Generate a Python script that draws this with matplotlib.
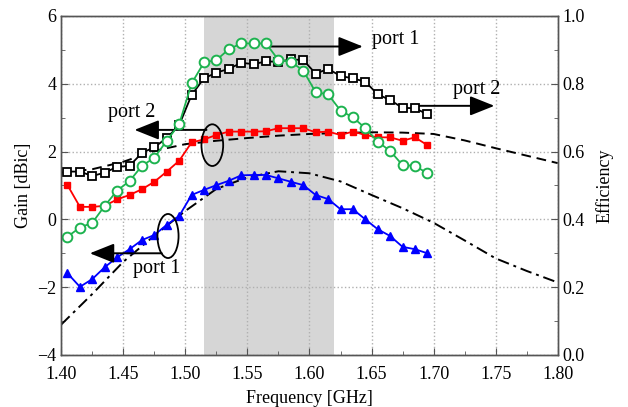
import matplotlib
matplotlib.use('Agg')
import matplotlib.pyplot as plt
from matplotlib.patches import Ellipse
import numpy as np

plt.rcParams['font.family'] = ['Liberation Serif', 'DejaVu Serif']

# measured frequencies [GHz]
freq = [1.405, 1.415, 1.425, 1.435, 1.445, 1.455, 1.465, 1.475, 1.485, 1.495,
        1.505, 1.515, 1.525, 1.535, 1.545, 1.555, 1.565, 1.575, 1.585, 1.595,
        1.605, 1.615, 1.625, 1.635, 1.645, 1.655, 1.665, 1.675, 1.685, 1.695]

# measured gain [dBic]
gain_p1 = [-1.59, -1.99, -1.76, -1.41, -1.12, -0.88, -0.61, -0.46, -0.16, 0.10,
           0.72, 0.87, 1.01, 1.14, 1.30, 1.31, 1.31, 1.21, 1.11, 1.01,
           0.72, 0.60, 0.30, 0.30, 0.00, -0.29, -0.49, -0.81, -0.88, -1.00]
gain_p2 = [1.01, 0.37, 0.37, 0.40, 0.59, 0.72, 0.89, 1.11, 1.41, 1.73,
           2.27, 2.36, 2.49, 2.59, 2.59, 2.59, 2.60, 2.69, 2.69, 2.69,
           2.57, 2.59, 2.49, 2.59, 2.49, 2.42, 2.42, 2.32, 2.42, 2.19]

# measured efficiency
eff_p1 = [0.349, 0.376, 0.390, 0.440, 0.485, 0.513, 0.558, 0.582, 0.632, 0.681,
          0.801, 0.863, 0.870, 0.902, 0.919, 0.919, 0.919, 0.870, 0.865, 0.839,
          0.775, 0.769, 0.721, 0.701, 0.669, 0.629, 0.602, 0.560, 0.558, 0.536]
eff_p2 = [0.541, 0.541, 0.528, 0.538, 0.555, 0.558, 0.596, 0.613, 0.640, 0.678,
          0.767, 0.816, 0.833, 0.844, 0.862, 0.858, 0.866, 0.865, 0.872, 0.870,
          0.830, 0.844, 0.823, 0.816, 0.806, 0.769, 0.752, 0.729, 0.728, 0.710]

# simulated gain [dBic]
freq_sim = [1.400, 1.425, 1.450, 1.475, 1.500, 1.525, 1.550, 1.575, 1.600,
            1.625, 1.650, 1.675, 1.700, 1.725, 1.750, 1.775, 1.800]
sim_p1 = [-3.10, -2.20, -1.25, -0.48, 0.25, 0.90, 1.24, 1.42, 1.36,
          1.12, 0.72, 0.33, -0.10, -0.62, -1.15, -1.52, -1.86]
sim_p2 = [1.38, 1.48, 1.70, 2.02, 2.22, 2.32, 2.40, 2.47, 2.52,
          2.55, 2.57, 2.56, 2.52, 2.33, 2.10, 1.88, 1.66]

fig = plt.figure(figsize=(6.28, 4.07), dpi=100)
ax1 = fig.add_axes([0.0976, 0.1278, 0.7904, 0.8329])
ax2 = ax1.twinx()

ax1.axvspan(1.515, 1.62, color='#d6d6d6', lw=0, zorder=0)
ax1.grid(True, linestyle=':', color='#b0b0b0', linewidth=1.0)

ax1.plot(freq_sim, sim_p2, '--', color='k', lw=1.4, dashes=(5, 3))
ax1.plot(freq_sim, sim_p1, '-.', color='k', lw=1.4, dashes=(6, 2.5, 1.5, 2.5))
ax1.plot(freq, gain_p2, '-s', color='#ff0000', lw=1.3, ms=4.5)
ax1.plot(freq, gain_p1, '-^', color='#0000ff', lw=1.3, ms=6)

ax2.plot(freq, eff_p2, '-s', color='k', lw=1.3, ms=6, mfc='white', mew=1.3)
ax2.plot(freq, eff_p1, '-o', color='#1db34f', lw=1.3, ms=7, mfc='white', mew=1.4)

ax1.set_xlim(1.40, 1.80)
ax1.set_ylim(-4, 6)
ax2.set_ylim(0.0, 1.0)
ax1.set_xticks(np.arange(1.40, 1.801, 0.05))
ax1.set_xticks(np.arange(1.40, 1.801, 0.025), minor=True)
ax1.set_yticks(np.arange(-4, 6.1, 2))
ax1.set_yticks(np.arange(-4, 6.1, 1), minor=True)
ax2.set_yticks(np.arange(0, 1.01, 0.2))
ax2.set_yticks(np.arange(0, 1.01, 0.1), minor=True)
ax1.xaxis.set_major_formatter(matplotlib.ticker.FormatStrFormatter('%.2f'))
ax2.yaxis.set_major_formatter(matplotlib.ticker.FormatStrFormatter('%.1f'))

for ax in (ax1, ax2):
    ax.tick_params(which='both', direction='in', labelsize=13, color='#555555')
    ax.tick_params(which='major', length=5)
    ax.tick_params(which='minor', length=3)
    for s in ax.spines.values():
        s.set_color('#555555')
        s.set_linewidth(1.0)
ax1.tick_params(axis='y', which='both', right=False)
ax1.tick_params(axis='x', which='both', top=False, pad=8)

ax1.set_xlabel('Frequency [GHz]', fontsize=13, labelpad=5)
ax1.set_ylabel('Gain [dBic]', fontsize=13, labelpad=4)
ax2.set_ylabel('Efficiency', fontsize=13, labelpad=8)

# annotations
arw = dict(arrowstyle='-|>,head_length=0.75,head_width=0.3', color='k',
           lw=1.4, mutation_scale=20, shrinkA=0, shrinkB=0)
ax1.annotate('', xy=(1.643, 5.10), xytext=(1.568, 5.10), arrowprops=arw)
ax1.text(1.650, 5.30, 'port 1', fontsize=14.5, va='center', ha='left')
ax1.annotate('', xy=(1.749, 3.35), xytext=(1.684, 3.35), arrowprops=arw)
ax1.text(1.716, 3.83, 'port 2', fontsize=14.5, va='center', ha='left')
ax1.annotate('', xy=(1.459, 2.64), xytext=(1.517, 2.64), arrowprops=arw)
ax1.text(1.438, 3.14, 'port 2', fontsize=14.5, va='center', ha='left')
ax1.annotate('', xy=(1.423, -1.0), xytext=(1.481, -1.0), arrowprops=arw)
ax1.text(1.458, -1.44, 'port 1', fontsize=14.5, va='center', ha='left')

ax1.add_patch(Ellipse((1.5217, 2.19), 0.0175, 1.23, fill=False,
                      edgecolor='k', lw=1.3, zorder=5))
ax1.add_patch(Ellipse((1.486, -0.49), 0.0170, 1.30, fill=False,
                      edgecolor='k', lw=1.3, zorder=5))

plt.savefig('out.png', dpi=100)
